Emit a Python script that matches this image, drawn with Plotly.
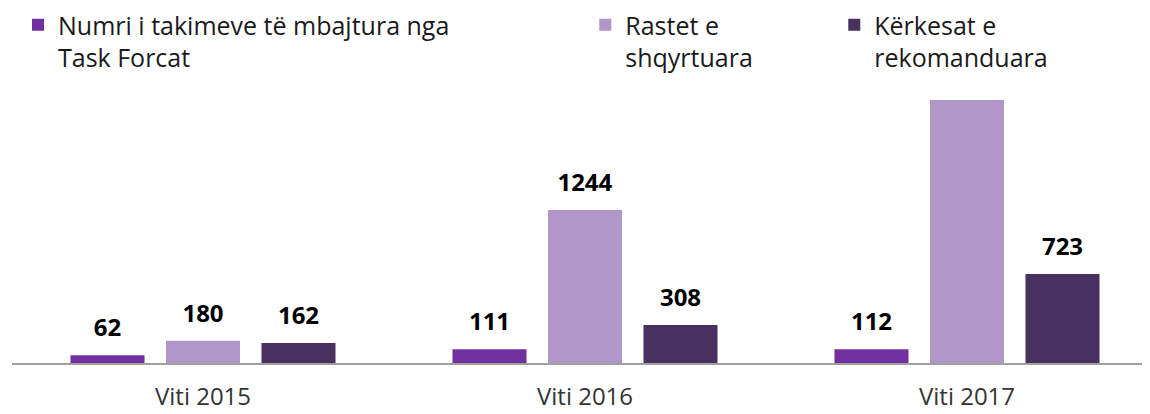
import plotly.graph_objects as go

categories = ["Viti 2015", "Viti 2016", "Viti 2017"]
series_names = [
    "Numri i takimeve të mbajtura nga<br>Task Forcat",
    "Rastet e<br>shqyrtuara",
    "Kërkesat e<br>rekomanduara",
]
takimet = [62, 111, 112]
rastet = [180, 1244, 2300]
kerkesat = [162, 308, 723]
colors = ["#7030A0", "#B096C9", "#48305F"]

Y_MAX = 2138
series = [takimet, rastet, kerkesat]
legend_ids = ["legend", "legend2", "legend3"]

fig = go.Figure()
for name, vals, col, lg in zip(series_names, series, colors, legend_ids):
    txt = [str(v) if v <= Y_MAX else "" for v in vals]
    fig.add_trace(go.Bar(
        x=categories, y=vals, name=name, legend=lg,
        marker=dict(color=col, line=dict(width=0)),
        text=txt,
        texttemplate="<span style='font-size:24px'><b>%{text}</b></span><br>&nbsp;",
        textposition="outside",
        textfont=dict(family="Open Sans", size=10, color="#000000"),
        cliponaxis=True,
        hoverinfo="x+y",
    ))

legend_common = dict(
    orientation="v", yanchor="top", xanchor="left", y=1.3726,
    xref="container", yref="paper",
    font=dict(family="Open Sans", size=25, color="#1a1a1a"),
    bgcolor="rgba(0,0,0,0)", valign="top", itemsizing="constant",
)
fig.update_layout(
    width=1150, height=414,
    margin=dict(l=4, r=0, t=92, b=59, autoexpand=False),
    paper_bgcolor="white", plot_bgcolor="white",
    barmode="group", bargap=0.25, bargroupgap=0.225,
    showlegend=True,
    legend=dict(x=0.0087, **legend_common),
    legend2=dict(x=0.502, **legend_common),
    legend3=dict(x=0.7185, **legend_common),
    xaxis=dict(
        range=[-0.5, 2.5], showline=True, linecolor="#A0A0A0", linewidth=2,
        showgrid=False, zeroline=False, ticks="", automargin=False,
        tickfont=dict(family="Open Sans", size=24, color="#333333"),
        ticklabelstandoff=11,
    ),
    yaxis=dict(range=[0, Y_MAX], visible=False, showgrid=False, zeroline=False),
)

fig.write_html("out.html")
